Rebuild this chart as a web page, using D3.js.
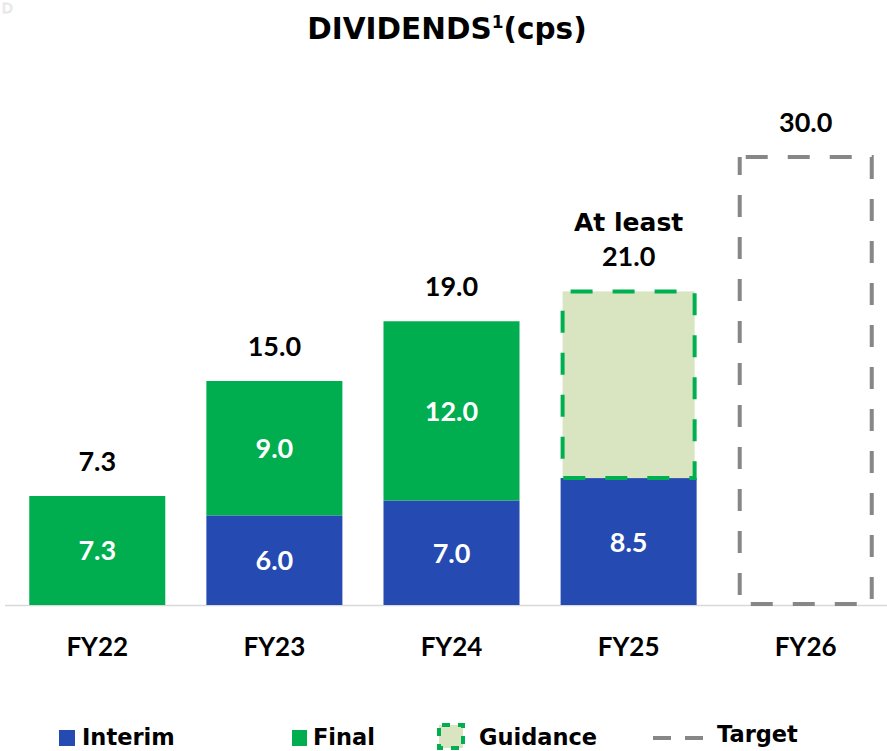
<!DOCTYPE html>
<html><head><meta charset="utf-8">
<script src="https://cdn.jsdelivr.net/npm/d3@7"></script>
<style>body{margin:0;background:#fff}svg{display:block}</style>
</head><body><svg id="c" width="887" height="751"></svg>
<script>
const categories = ["FY22","FY23","FY24","FY25","FY26"];
const interim = [0, 6.0, 7.0, 8.5, 0];
const final = [7.3, 9.0, 12.0, 0, 0];
const guidance = [0, 0, 0, 12.5, 0];
const target = [0, 0, 0, 0, 30.0];
const totalPrefix = ["", "", "", "At least", ""];
const totalLabels = ["7.3","15.0","19.0","21.0","30.0"];
const interimLabels = ["", "6.0", "7.0", "8.5", ""];
const finalLabels = ["7.3", "9.0", "12.0", "", ""];
const legendItems = ["Interim","Final","Guidance","Target"];

const C = {blue:"#254AB1", green:"#00AE4F", guideFill:"#D9E4C1", guideStroke:"#00B050", grey:"#878787"};
const NUM = "Lato, 'Noto Sans', sans-serif";
const WORD = "'DejaVu Sans', Verdana, sans-serif";
const svg = d3.select("#c");
const x = d3.scaleBand().domain(categories).range([8, 895]).paddingInner(0.232).paddingOuter(0.12);
const y = d3.scaleLinear().domain([0, 30]).range([605, 157]);
const bw = x.bandwidth();

svg.append("line").attr("x1",5).attr("x2",887).attr("y1",y(0)+0.5).attr("y2",y(0)+0.5)
  .attr("stroke","#d9d9d9").attr("stroke-width",1.5);

const g = svg.append("g");
categories.forEach((c,i)=>{
  const x0 = x(c), cx = x0+bw/2;
  if (interim[i]>0) g.append("rect").attr("x",x0).attr("width",bw).attr("y",y(interim[i])).attr("height",y(0)-y(interim[i])).attr("fill",C.blue);
  if (final[i]>0) g.append("rect").attr("x",x0).attr("width",bw).attr("y",y(interim[i]+final[i])).attr("height",y(interim[i])-y(interim[i]+final[i])).attr("fill",C.green);
  if (guidance[i]>0) g.append("rect").attr("x",x0+2).attr("width",bw-4).attr("y",y(interim[i]+guidance[i])).attr("height",y(interim[i])-y(interim[i]+guidance[i])).attr("fill",C.guideFill)
      .attr("stroke",C.guideStroke).attr("stroke-width",4).attr("stroke-dasharray","22,20").attr("stroke-dashoffset",-8);
  if (target[i]>0) g.append("rect").attr("x",x0+2).attr("width",bw-4).attr("y",y(target[i])).attr("height",y(0)-y(target[i])-1).attr("fill","none")
      .attr("stroke",C.grey).attr("stroke-width",4).attr("stroke-dasharray","22,20").attr("stroke-dashoffset",-6);
  const total = interim[i]+final[i]+guidance[i]+target[i];
  g.append("text").attr("x",cx).attr("y",y(total)-25).attr("text-anchor","middle").attr("font-family",NUM).attr("font-weight",700).attr("font-size",27).attr("fill","#000").text(totalLabels[i]);
  if (totalPrefix[i]) g.append("text").attr("x",cx).attr("y",y(total)-60).attr("text-anchor","middle").attr("font-family",WORD).attr("font-weight",700).attr("font-size",25).attr("fill","#000").text(totalPrefix[i]);
  if (interimLabels[i]) g.append("text").attr("x",cx).attr("y",(y(0)+y(interim[i]))/2+10).attr("text-anchor","middle").attr("font-family",NUM).attr("font-weight",700).attr("font-size",27).attr("fill","#fff").text(interimLabels[i]);
  if (finalLabels[i]) g.append("text").attr("x",cx).attr("y",(y(interim[i])+y(interim[i]+final[i]))/2+10).attr("text-anchor","middle").attr("font-family",NUM).attr("font-weight",700).attr("font-size",27).attr("fill","#fff").text(finalLabels[i]);
});

const ax = svg.append("g").attr("transform",`translate(0,${y(0)})`).call(d3.axisBottom(x).tickSize(0).tickPadding(33));
ax.select(".domain").remove();
ax.selectAll("text").attr("font-family",NUM).attr("font-weight",700).attr("font-size",26).attr("fill","#000");

const title = svg.append("text").attr("x",447).attr("y",39).attr("text-anchor","middle")
  .attr("font-family",WORD).attr("font-weight",700).attr("font-size",29.5).attr("fill","#000");
title.append("tspan").text("DIVIDENDS");
title.append("tspan").attr("font-size",17).attr("dy",-11).text("1");
title.append("tspan").attr("dy",11).text("(cps)");

svg.append("text").attr("x",2).attr("y",13).attr("font-family",NUM).attr("font-size",14).attr("fill","none").attr("stroke","#e6e6e6").text("D");

const L = svg.append("g").attr("font-family",WORD).attr("font-weight",700).attr("font-size",22.5).attr("fill","#000");
L.append("rect").attr("x",59).attr("y",730).attr("width",16).attr("height",16).attr("fill",C.blue);
L.append("text").attr("x",82).attr("y",745).text(legendItems[0]);
L.append("rect").attr("x",292).attr("y",730).attr("width",15).attr("height",16).attr("fill",C.green);
L.append("text").attr("x",313).attr("y",745).text(legendItems[1]);
L.append("rect").attr("x",439).attr("y",725).attr("width",24).attr("height",23).attr("fill",C.guideFill)
  .attr("stroke",C.guideStroke).attr("stroke-width",4).attr("stroke-dasharray","8,8").attr("stroke-dashoffset",-3);
L.append("text").attr("x",479).attr("y",745).text(legendItems[2]);
L.append("line").attr("x1",653).attr("x2",705).attr("y1",738).attr("y2",738).attr("stroke",C.grey).attr("stroke-width",4).attr("stroke-dasharray","18,14");
L.append("text").attr("x",717).attr("y",742).text(legendItems[3]);
</script></body></html>
